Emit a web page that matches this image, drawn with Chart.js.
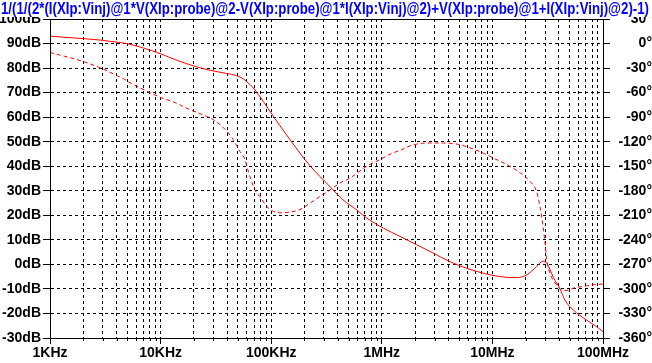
<!DOCTYPE html>
<html>
<head>
<meta charset="utf-8">
<script src="https://cdn.jsdelivr.net/npm/chart.js@4.4.0/dist/chart.umd.min.js"></script>
<style>
  html, body { margin: 0; padding: 0; background: #fff; }
  canvas { display: block; }
</style>
</head>
<body>
<canvas id="bode" width="652" height="363"></canvas>
<script>
const titleText = '1/(1/(2*(I(XIp:Vinj)@1*V(XIp:probe)@2-V(XIp:probe)@1*I(XIp:Vinj)@2)+V(XIp:probe)@1+I(XIp:Vinj)@2)-1)';

// frequency axis: decades and their labels
const decades = [1e3, 1e4, 1e5, 1e6, 1e7, 1e8];
const freqLabels = ['1KHz', '10KHz', '100KHz', '1MHz', '10MHz', '100MHz'];

// magnitude (solid, left axis, dB)
const magFreq = [1000, 2000, 3000, 3480, 4930, 6980, 9900, 14000, 20500, 28000, 39600, 48800, 56000, 60000,
  68900, 84900, 104500, 120000, 148000, 202000, 249000, 306000, 362000, 446000, 593000, 730000, 1030000,
  1460000, 2070000, 2920000, 4140000, 5860000, 8280000, 11700000, 16600000, 20400000, 25100000, 28700000,
  31000000, 35600000, 40900000, 45200000, 53900000, 71000000, 87600000, 100000000];
const magDb = [93.0, 92.0, 91.3, 90.9, 90.0, 88.2, 85.9, 83.2, 80.7, 79.1, 77.8, 76.9, 75.6, 74.5,
  71.9, 66.4, 60.4, 56.5, 50.8, 42.7, 37.9, 33.8, 30.4, 26.3, 22.2, 18.9, 14.8,
  11.4, 8.0, 4.6, 1.1, -1.6, -3.6, -5.0, -5.4, -4.3, -0.9, 1.3,
  0.5, -5.3, -10.0, -14.5, -18.6, -22.7, -25.4, -27.4];

// phase (dashed, right axis, degrees)
const phaseFreq = [1000, 2000, 3000, 4000, 4600, 5300, 6500, 8300, 9900, 12600, 15500, 18400, 21200, 26000,
  29900, 34400, 39500, 45400, 52200, 58000, 62000, 66500, 71300, 79000, 91000, 104000, 125000, 148000,
  182000, 225000, 275000, 340000, 418000, 515000, 730000, 960000, 1200000, 1560000, 1800000, 2560000,
  3600000, 5100000, 6700000, 8300000, 10200000, 13500000, 17800000, 21900000, 25100000, 26900000,
  28800000, 29800000, 31000000, 33200000, 38000000, 43600000, 47000000, 53900000, 66000000, 81000000, 100000000];
const phaseDeg = [-11, -22, -31, -39, -43, -48, -54, -61, -65.7, -70.6, -76, -80.8, -84, -89,
  -93, -99, -107, -117.5, -132, -142, -156, -168.6, -179, -187, -199, -205, -207, -206,
  -203, -195, -187, -179, -170.6, -164.5, -150, -142, -135, -129, -125, -121.6,
  -121.6, -123.7, -129, -134, -140, -148, -158, -168.6, -181, -199,
  -225, -242, -264, -281, -295, -302, -302, -299, -297, -295, -294];

const magPoints = magFreq.map((f, i) => ({ x: f, y: magDb[i] }));
const phasePoints = phaseFreq.map((f, i) => ({ x: f, y: phaseDeg[i] }));

// log grid: 1..9 in every decade
const gridTicks = [];
for (let d = 0; d < decades.length - 1; d++) {
  for (let m = 1; m < 10; m++) gridTicks.push({ value: decades[d] * m, major: m === 1 });
}
gridTicks.push({ value: decades[decades.length - 1], major: true });

const frame = {
  id: 'frame',
  afterDraw(chart) {
    const { ctx, chartArea: a } = chart;
    const xs = chart.scales.x;
    ctx.save();
    ctx.strokeStyle = '#000';
    ctx.lineWidth = 1;
    ctx.beginPath();
    xs.ticks.forEach(t => {
      if (!t.major) {
        const px = Math.round(xs.getPixelForValue(t.value)) + 0.5;
        ctx.moveTo(px, a.bottom);
        ctx.lineTo(px, a.bottom + 3);
      }
    });
    ctx.stroke();
    ctx.strokeRect(Math.round(a.left) + 0.5, Math.round(a.top) + 0.5,
      Math.round(a.right - a.left), Math.round(a.bottom - a.top));

    // title sits over the top labels
    ctx.fillStyle = '#fff';
    ctx.fillRect(0, 0, chart.width, 17);
    ctx.font = 'bold 17px "Liberation Sans", Arial, sans-serif';
    const w = ctx.measureText(titleText).width;
    ctx.translate(1, 0);
    ctx.scale(648 / w, 1);
    ctx.fillStyle = '#0000ff';
    ctx.textBaseline = 'alphabetic';
    ctx.fillText(titleText, 0, 14);
    ctx.restore();
  }
};

Chart.defaults.font.family = '"Liberation Sans", Arial, sans-serif';
Chart.defaults.font.size = 14;
Chart.defaults.font.weight = 'bold';
Chart.defaults.color = '#000';

new Chart(document.getElementById('bode'), {
  type: 'line',
  data: {
    datasets: [
      {
        label: 'Magnitude',
        data: magPoints,
        yAxisID: 'y',
        borderColor: '#ff0000',
        borderWidth: 1,
        pointRadius: 0,
        cubicInterpolationMode: 'monotone',
      },
      {
        label: 'Phase',
        data: phasePoints,
        yAxisID: 'y2',
        borderColor: '#ff0000',
        borderWidth: 1,
        borderDash: [4, 3],
        pointRadius: 0,
        cubicInterpolationMode: 'monotone',
      },
    ],
  },
  options: {
    responsive: false,
    animation: false,
    events: [],
    layout: { padding: { top: 19, left: 0, right: 0, bottom: 0 } },
    plugins: { legend: { display: false }, tooltip: { enabled: false } },
    scales: {
      x: {
        type: 'logarithmic',
        min: 1e3,
        max: 1e8,
        afterBuildTicks: (scale) => { scale.ticks = gridTicks.map(t => ({ ...t })); },
        afterFit: (scale) => { scale.height = 25; },
        ticks: {
          autoSkip: false,
          maxRotation: 0,
          padding: 1,
          callback: (v) => {
            const i = decades.indexOf(v);
            return i >= 0 ? freqLabels[i] : '';
          },
        },
        grid: {
          color: '#000',
          lineWidth: 1,
          tickLength: 6,
          tickColor: (c) => (c.tick && c.tick.major ? '#000' : 'rgba(0,0,0,0)'),
        },
        border: { display: true, color: '#000', dash: [3, 3] },
      },
      y: {
        position: 'left',
        min: -30,
        max: 100,
        afterFit: (scale) => { scale.width = 50; },
        ticks: { stepSize: 10, padding: 2, callback: (v) => v + 'dB' },
        grid: { color: '#000', lineWidth: 1, tickLength: 7, tickColor: '#000' },
        border: { display: true, color: '#000', dash: [3, 3] },
      },
      y2: {
        position: 'right',
        min: -360,
        max: 30,
        afterFit: (scale) => { scale.width = 49; },
        ticks: { stepSize: 30, padding: 3, crossAlign: 'far', callback: (v) => v + '°' },
        grid: { drawOnChartArea: false, tickLength: 7, tickColor: '#000' },
        border: { display: true, color: '#000' },
      },
    },
  },
  plugins: [frame],
});
</script>
</body>
</html>
